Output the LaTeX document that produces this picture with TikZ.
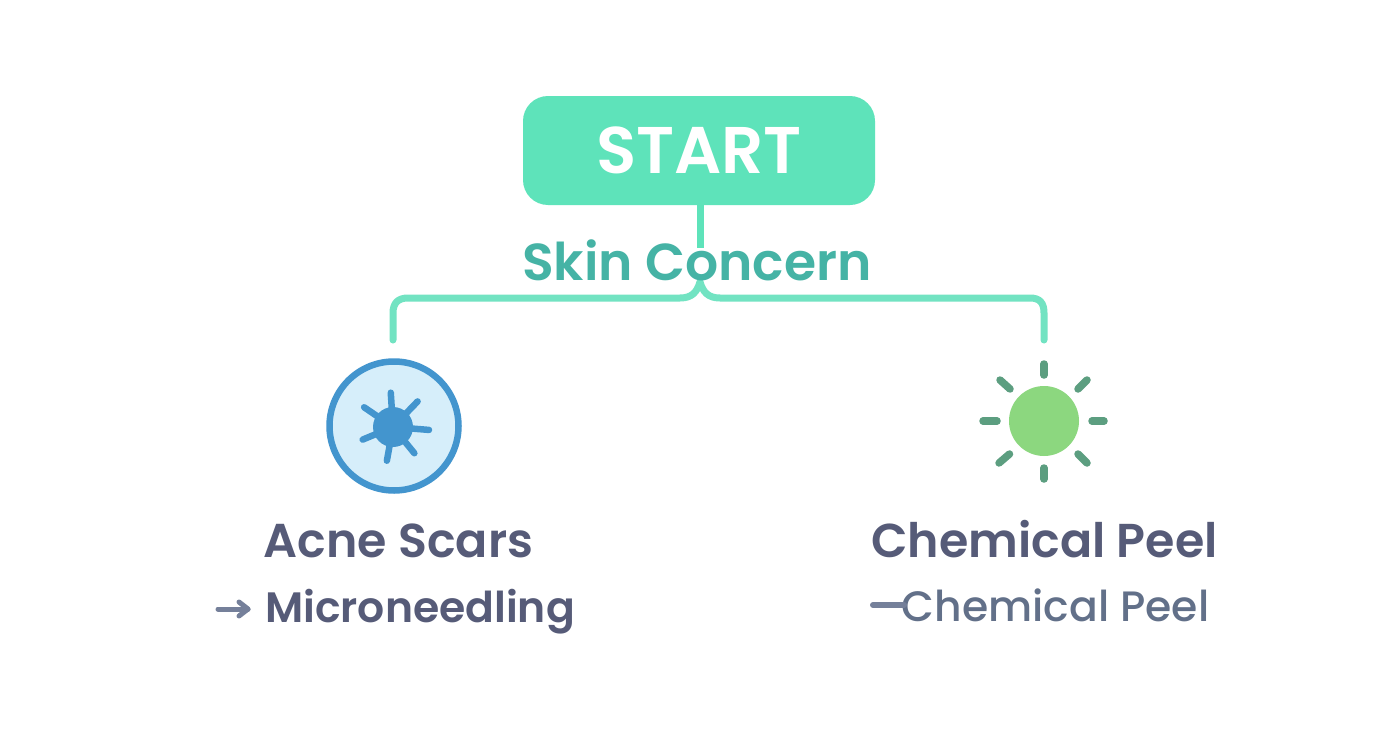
\documentclass[tikz,border=0pt]{standalone}
\usepackage{fontspec}
\setmainfont{Poppins}[UprightFont=* Medium,BoldFont=* SemiBold]
\definecolor{startfill}{HTML}{5EE3BA}
\definecolor{linkc}{HTML}{72E3C2}
\definecolor{tealtext}{HTML}{45B3A5}
\definecolor{slatetext}{HTML}{565B78}
\definecolor{greytext}{HTML}{627089}
\definecolor{arrowc}{HTML}{75809A}
\definecolor{bluefill}{HTML}{D6EEFA}
\definecolor{bluec}{HTML}{4395CE}
\definecolor{sunc}{HTML}{8CD77F}
\definecolor{rayc}{HTML}{5C9E80}
\tikzset{
  startbox/.style={draw=none,fill=startfill,rounded corners=25pt,minimum width=352pt,minimum height=109pt,inner sep=0pt,text=white,font=\fontsize{66}{66}\selectfont\bfseries},
  label/.style={anchor=base,inner sep=0pt,font=\fontsize{47.5}{48}\selectfont\bfseries},
  link/.style={draw=linkc,line width=7pt,line cap=round,line join=round},
  spike/.style={draw=bluec,line width=6.5pt,line cap=round,shorten >=1pt},
  sunray/.style={draw=rayc,line width=7.5pt,line cap=round},
  lead/.style={line width=5pt,line cap=round},
}
\begin{document}
\begin{tikzpicture}[x=1pt,y=-1pt]
\useasboundingbox (0,0) rectangle (1392,752);
\fill[white] (0,0) rectangle (1392,752);
\coordinate (junction) at (700,282);
\coordinate (leftend) at (393,340);
\coordinate (rightend) at (1044,340);
\node[startbox] (start) at (699,150.5) {START};
\coordinate (stemend) at (700,248);
\draw[link,draw=startfill,line cap=butt] (start.south -| stemend) -- (stemend);
\draw[link] (junction) .. controls (697,292) and (692,298) .. (680,298) -- (408,298) .. controls (398,298) and (393,303) .. (393,313) -- (leftend);
\draw[link] (junction) .. controls (703,292) and (708,298) .. (720,298) -- (1030,298) .. controls (1040,298) and (1044,303) .. (1044,313) -- (rightend);
\node[label,text=tealtext,font=\fontsize{52}{52}\selectfont\bfseries] (skin) at (697,280) {Skin Concern};
% acne icon
\node[circle,draw=bluec,fill=bluefill,line width=6.5pt,minimum size=129pt,inner sep=0pt] (acne) at (394,426) {};
\node[circle,fill=bluec,minimum size=40pt,inner sep=0pt] (acnecore) at (393,427) {};
\foreach \px/\py in {390.7/391.7,418.3/400.7,430/430,415/454,386.7/461.7,361.7/440,363.3/406.7}
  \draw[spike] (acnecore.center) -- (\px,\py);
% sun icon
\node[circle,fill=sunc,minimum size=70pt,inner sep=0pt] (sun) at (1044,421) {};
\foreach \ax/\ay/\bx/\by in {1044/364/1044/375,1078/389/1087/380,1092/421/1104/421,1078/454/1087/463,1044/468/1044/479,999/463/1009.5/454,983/421/997/421,1000/380/1010/389}
  \draw[sunray] (\ax,\ay) -- (\bx,\by);
% labels
\node[label,text=slatetext] (acnelabel) at (398.5,557) {Acne Scars};
\node[label,text=slatetext,font=\fontsize{42.5}{48}\selectfont\bfseries] (micro) at (420,622) {Microneedling};
\node[label,text=slatetext] (peel) at (1044.5,557) {Chemical Peel};
\node[label,text=greytext,font=\fontsize{42.5}{44}\selectfont\mdseries] (peelb) at (1055.5,621) {Chemical Peel};
% leads
\coordinate (ma) at (218,609);
\coordinate (mb) at (248,609);
\draw[lead,draw=arrowc] (ma) -- (mb);
\draw[lead,draw=arrowc,line join=round] (239,602) -- (mb) -- (239,616);
\coordinate (pa) at (873,605);
\coordinate (pb) at (904,605);
\draw[lead,draw=arrowc,line width=6pt] (pa) -- (pb);
\end{tikzpicture}
\end{document}
